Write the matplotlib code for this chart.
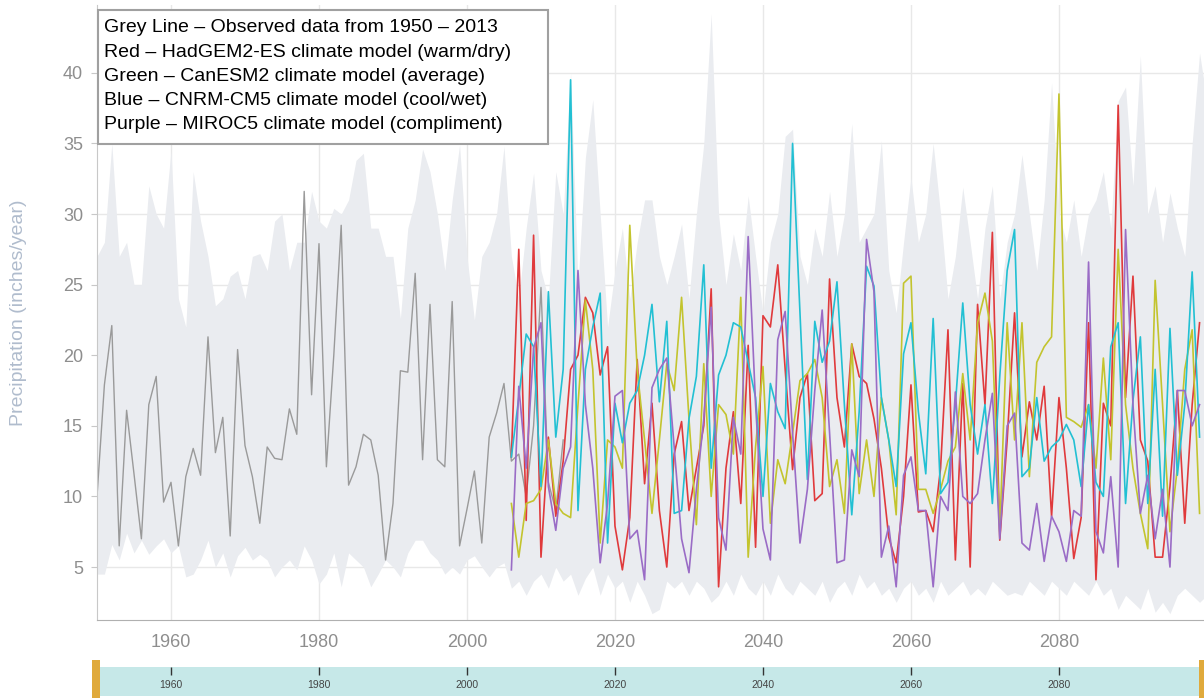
import numpy as np
import matplotlib
matplotlib.use("Agg")
import matplotlib.pyplot as plt
from matplotlib.patches import Rectangle
import matplotlib.transforms as mtransforms

plt.rcParams['font.family'] = ['Liberation Sans', 'DejaVu Sans']

# ---------------- data ----------------
obs_years = list(range(1950, 2014))
observed = [10.0, 17.9, 22.1, 6.5, 16.1, 11.6, 7.0, 16.5, 18.5, 9.6,
            11.0, 6.5, 11.4, 13.4, 11.5, 21.3, 13.1, 15.6, 7.2, 20.4,
            13.6, 11.4, 8.1, 13.5, 12.7, 12.6, 16.2, 14.4, 31.6, 17.2,
            27.9, 12.1, 20.0, 29.2, 10.8, 12.1, 14.4, 14.0, 11.5, 5.5,
            9.5, 18.9, 18.8, 25.8, 12.6, 23.6, 12.6, 12.1, 23.8, 6.5,
            9.1, 11.8, 6.7, 14.2, 15.9, 18.0, 12.5, 13.0, 10.0, 15.0,
            24.8, 11.0, 9.0, 14.0]

model_years = list(range(2006, 2100))
hadgem2_es = [12.8, 27.5, 8.3, 28.5, 5.7, 14.2, 8.6, 12.5, 19.0, 20.0,
              24.1, 23.0, 18.6, 20.6, 7.9, 4.8, 8.5, 19.7, 10.9, 16.6,
              9.0, 5.0, 13.0, 15.3, 9.0, 12.0, 15.0, 24.7, 3.6, 12.0,
              16.0, 9.5, 20.7, 6.4, 22.8, 22.0, 26.4, 19.0, 11.9, 17.0,
              18.7, 9.7, 10.2, 25.4, 17.0, 13.5, 20.8, 18.5, 18.0, 15.5,
              12.0, 7.1, 5.3, 10.0, 17.9, 8.9, 9.0, 7.5, 12.0, 21.8,
              5.5, 18.0, 5.0, 23.6, 16.5, 28.7, 6.9, 14.0, 23.0, 12.8,
              16.7, 14.0, 17.8, 8.6, 17.0, 12.0, 5.6, 8.5, 22.3, 4.1,
              16.6, 15.0, 37.7, 17.0, 25.6, 14.0, 12.5, 5.7, 5.7, 10.7,
              17.5, 8.1, 16.5, 22.3]
canesm2 = [9.5, 5.7, 9.5, 9.7, 10.5, 14.0, 9.5, 8.8, 8.5, 16.5,
           23.9, 19.0, 6.7, 14.0, 13.5, 12.0, 29.2, 19.0, 14.0, 8.8,
           14.0, 19.4, 17.5, 24.1, 15.5, 8.0, 19.4, 10.0, 16.5, 15.8,
           13.0, 24.1, 5.7, 13.5, 19.2, 8.1, 12.6, 10.9, 14.5, 18.2,
           18.7, 19.7, 17.0, 10.7, 12.6, 8.8, 20.8, 10.2, 14.0, 10.0,
           17.0, 14.0, 8.7, 25.1, 25.6, 10.5, 10.5, 8.8, 10.5, 12.5,
           13.5, 18.7, 14.0, 22.3, 24.4, 21.0, 7.5, 22.3, 14.0, 22.3,
           11.4, 19.5, 20.6, 21.3, 38.5, 15.6, 15.3, 14.9, 16.5, 12.0,
           19.8, 12.6, 27.5, 16.5, 12.0, 8.8, 6.3, 25.3, 16.5, 7.5,
           12.0, 19.0, 21.8, 8.8]
cnrm_cm5 = [12.8, 17.0, 21.5, 20.6, 10.7, 24.5, 14.2, 19.0, 39.5, 9.0,
            19.0, 22.0, 24.4, 6.7, 16.6, 13.8, 16.6, 17.5, 20.0, 23.6,
            16.7, 22.4, 8.8, 9.0, 15.5, 18.5, 26.4, 12.0, 18.6, 20.0,
            22.3, 22.0, 19.5, 17.0, 10.0, 18.0, 16.0, 14.8, 35.0, 23.0,
            11.2, 22.4, 19.5, 21.0, 25.2, 16.5, 8.7, 16.0, 26.3, 24.9,
            17.0, 14.0, 10.7, 20.1, 22.3, 16.0, 11.6, 22.6, 10.2, 11.0,
            16.5, 23.7, 16.5, 13.0, 16.5, 9.5, 18.5, 26.0, 28.9, 11.4,
            12.0, 17.0, 12.5, 13.5, 14.0, 15.1, 14.0, 10.7, 16.5, 11.0,
            10.0, 20.6, 22.3, 9.5, 16.8, 21.3, 9.5, 19.0, 8.6, 21.9,
            11.5, 16.5, 25.9, 14.2]
miroc5 = [4.8, 17.8, 12.0, 20.5, 22.3, 10.7, 7.6, 12.0, 13.5, 26.0,
          16.5, 12.0, 5.3, 9.5, 17.1, 17.5, 7.0, 7.6, 4.1, 17.7,
          19.0, 19.8, 13.5, 7.0, 4.6, 10.5, 15.5, 23.4, 8.5, 6.2,
          15.6, 13.0, 28.4, 16.5, 7.7, 5.5, 21.1, 23.1, 14.5, 6.7,
          10.5, 17.5, 23.2, 14.5, 5.3, 5.5, 13.3, 11.4, 28.2, 24.5,
          5.7, 7.9, 3.6, 11.5, 12.8, 9.0, 9.0, 3.6, 10.0, 9.0,
          17.4, 10.0, 9.5, 10.2, 14.0, 17.3, 7.0, 15.0, 15.9, 6.7,
          6.2, 9.5, 5.4, 8.6, 7.5, 5.4, 9.0, 8.6, 26.6, 7.5,
          6.0, 11.4, 5.0, 28.9, 16.5, 8.8, 11.5, 7.0, 10.5, 5.0,
          17.5, 17.5, 15.0, 16.5]

band_years = list(range(1950, 2101))
band_upper = [27, 28, 35, 27, 28, 25, 25, 32, 30, 29,
              34.5, 24, 22, 33, 29.5, 27, 23.5, 24, 25.6, 26,
              24, 27, 27.2, 26, 29.5, 30, 26, 28, 28, 31.6,
              29.5, 29, 30.4, 30, 31, 33.8, 34.3, 29, 29, 27,
              27, 22.6, 29, 31, 34.6, 33, 30, 26, 31, 34.9,
              27, 22.5, 27, 28, 30, 34.8, 27, 24, 29, 32.9,
              26, 24, 33, 30, 40, 25, 34, 38.1, 30, 22,
              26, 29, 24, 28, 31, 31, 27, 25, 27, 29.3,
              24, 30, 35, 44.2, 30, 25, 28.6, 26, 31.3, 27,
              23, 28, 30, 35.5, 36, 27, 25, 29, 27, 31.6,
              27, 30, 36.4, 28, 29, 30, 35.2, 26, 23, 28,
              32.6, 28, 30, 35, 30, 24, 27, 31.9, 28, 24,
              29, 32, 24, 28, 30, 34.2, 30, 26, 31, 39.3,
              30, 28, 31, 27, 30, 31, 33, 29, 38, 39,
              32, 41.2, 30, 32, 28, 31.5, 29, 27, 35, 41.4,
              38]
band_lower = [4.5, 4.5, 6.6, 5.5, 7.4, 6.0, 6.9, 5.9, 6.5, 7.0,
              6.0, 6.5, 4.3, 4.5, 5.5, 6.9, 5.0, 6.0, 4.3, 5.8,
              6.4, 5.5, 5.9, 5.5, 4.3, 5.0, 5.5, 4.8, 6.5, 5.5,
              3.8, 4.5, 6.0, 3.6, 6.0, 5.5, 5.0, 3.6, 4.5, 5.5,
              5.0, 4.3, 6.0, 6.9, 6.9, 6.0, 5.5, 4.5, 5.0, 4.5,
              5.5, 5.8, 5.0, 4.3, 5.0, 5.3, 3.5, 4.0, 3.0, 4.0,
              4.5, 3.5, 5.0, 4.0, 4.5, 3.0, 4.2, 5.0, 3.0, 4.5,
              3.5, 4.0, 2.5, 4.0, 3.0, 1.7, 2.0, 4.0, 3.5, 4.0,
              3.0, 4.0, 3.5, 2.5, 3.0, 4.0, 3.0, 4.5, 3.5, 3.0,
              4.0, 3.0, 4.5, 3.5, 3.0, 4.0, 3.5, 3.0, 4.0, 2.5,
              3.5, 4.0, 3.0, 4.5, 3.5, 4.0, 3.0, 3.5, 2.5, 3.5,
              4.0, 3.0, 3.5, 2.5, 4.0, 3.0, 3.5, 4.0, 3.0, 3.5,
              3.0, 4.0, 3.5, 3.0, 3.2, 3.0, 4.0, 3.5, 3.0, 4.0,
              3.5, 3.0, 4.0, 3.5, 3.0, 4.0, 3.0, 3.5, 2.0, 3.0,
              2.5, 2.0, 3.5, 1.8, 2.5, 1.7, 3.0, 3.5, 3.0, 2.5,
              3.0]

x_ticks = [1960, 1980, 2000, 2020, 2040, 2060, 2080]
y_ticks = [5, 10, 15, 20, 25, 30, 35, 40]
y_label = "Precipitation (inches/year)"
legend_lines = ["Grey Line \u2013 Observed data from 1950 \u2013 2013",
                "Red \u2013 HadGEM2-ES climate model (warm/dry)",
                "Green \u2013 CanESM2 climate model (average)",
                "Blue \u2013 CNRM-CM5 climate model (cool/wet)",
                "Purple \u2013 MIROC5 climate model (compliment)"]

# ---------------- figure ----------------
W, H = 1204, 698
fig = plt.figure(figsize=(W / 100, H / 100), dpi=100)

def px_rect(x0, y0, x1, y1):
    # pixel box (top-left origin) -> figure fraction [l, b, w, h]
    return [x0 / W, 1 - y1 / H, (x1 - x0) / W, (y1 - y0) / H]

ax = fig.add_axes(px_rect(97, 5, 1204, 620))
xmin, xmax = 1950, 2099.6
ax.set_xlim(xmin, xmax)
ax.set_ylim(1.25, 44.8)

ax.fill_between(band_years, band_lower, band_upper, color='#eaecf0', lw=0, zorder=1)
ax.plot(obs_years, observed, color='#9a9a9a', lw=1.0, zorder=2)
ax.plot(model_years, hadgem2_es, color='#e03a3c', lw=1.2, zorder=3)
ax.plot(model_years, canesm2, color='#c3c42e', lw=1.2, zorder=3)
ax.plot(model_years, cnrm_cm5, color='#22c0d3', lw=1.2, zorder=3)
ax.plot(model_years, miroc5, color='#9a6cc6', lw=1.2, zorder=3)

ax.set_xticks(x_ticks)
ax.set_yticks(y_ticks)
ax.grid(True, color='#e8e8e8', lw=1.0, zorder=0)
ax.set_axisbelow(True)
for s in ['top', 'right']:
    ax.spines[s].set_visible(False)
ax.spines['left'].set_color('#c8c8c8')
ax.spines['bottom'].set_color('#b0b0b0')
ax.tick_params(axis='x', length=0, pad=10, labelsize=13, labelcolor='#8e8e8e')
ax.tick_params(axis='y', length=4, color='#c8c8c8', pad=6, labelsize=13, labelcolor='#8e8e8e')
ax.set_ylabel(y_label, fontsize=14, color='#b0bccd', va='center')
ax.yaxis.set_label_coords(-(97 - 19) / (1204 - 97), 0.5)

# legend box (pixel positions)
box = Rectangle((98 / W, 1 - 144 / H), (548 - 98) / W, (144 - 10) / H,
                transform=fig.transFigure, facecolor='white', edgecolor='#a0a0a0',
                lw=1.5, zorder=10)
fig.patches.append(box)
for i, line in enumerate(legend_lines):
    fig.text(104 / W, 1 - (28 + 24.2 * i) / H, line, fontsize=14, color='black',
             va='center', ha='left', zorder=11)

# navigator
nav = fig.add_axes(px_rect(97, 667, 1204, 696))
nav.set_xlim(xmin, xmax)
nav.set_ylim(0, 1)
nav.set_facecolor('#c6e8e8')
for s in nav.spines.values():
    s.set_visible(False)
nav.set_yticks([])
nav.set_xticks(x_ticks)
nav.xaxis.set_ticks_position('top')
nav.tick_params(axis='x', direction='in', length=6, width=1, color='#333333',
                labeltop=False, labelbottom=False)
trans = mtransforms.blended_transform_factory(nav.transData, nav.transAxes)
for t in x_ticks:
    nav.text(t, 0.38, str(t), transform=trans, ha='center', va='center',
             fontsize=7.5, color='#444444')

# navigator handles
for (x0, x1) in [(92, 100), (1199, 1204)]:
    fig.patches.append(Rectangle((x0 / W, 1 - 698 / H), (x1 - x0) / W, (698 - 660) / H,
                                 transform=fig.transFigure, facecolor='#e0aa3c',
                                 edgecolor='none', zorder=12))

fig.savefig('out.png', dpi=100)
